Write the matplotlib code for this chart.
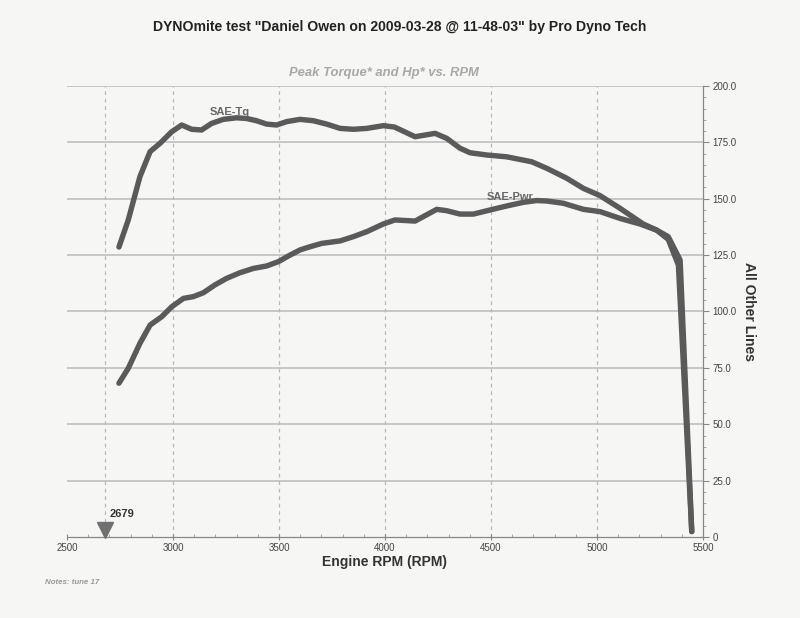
import matplotlib
matplotlib.use("Agg")
import matplotlib.pyplot as plt
from matplotlib.ticker import MultipleLocator

plt.rcParams['font.family'] = ['Liberation Sans', 'DejaVu Sans']

# ---- data ----
tq_rpm = [2745, 2789, 2844, 2892, 2939, 2994, 3041, 3088, 3135, 3182, 3237, 3300,
          3347, 3394, 3442, 3489, 3536, 3599, 3662, 3725, 3788, 3851, 3914, 3992,
          4045, 4142, 4236, 4291, 4354, 4401, 4480, 4574, 4692, 4763, 4857, 4936,
          5014, 5108, 5218, 5281, 5336, 5392, 5447]
tq_val = [128.6, 140.6, 159.8, 170.9, 174.6, 179.7, 182.7, 180.8, 180.5, 183.4, 185.2, 185.9,
          185.6, 184.6, 183.1, 182.7, 184.2, 185.2, 184.6, 183.1, 181.2, 180.8, 181.2, 182.4,
          181.8, 177.5, 179.0, 176.8, 172.4, 170.4, 169.4, 168.6, 166.4, 163.5, 159.1, 154.6,
          151.4, 145.8, 138.8, 136.1, 133.2, 122.8, 2.4]

pwr_rpm = [2745, 2789, 2844, 2892, 2947, 2994, 3049, 3096, 3143, 3198, 3253, 3316,
           3379, 3442, 3497, 3544, 3599, 3646, 3701, 3788, 3851, 3914, 3992, 4047,
           4142, 4244, 4291, 4354, 4417, 4495, 4574, 4652, 4715, 4763, 4841, 4936,
           5014, 5108, 5203, 5281, 5336, 5384, 5447]
pwr_val = [68.2, 74.8, 85.9, 94.0, 97.7, 102.1, 105.8, 106.6, 108.3, 111.8, 114.7, 117.2,
           119.1, 120.2, 122.1, 124.6, 127.3, 128.7, 130.2, 131.3, 133.2, 135.4, 138.8, 140.6,
           140.1, 145.3, 144.7, 143.2, 143.2, 145.0, 146.8, 148.4, 149.2, 149.0, 148.0, 145.3,
           144.3, 141.3, 138.8, 136.1, 132.0, 120.6, 2.4]

x_ticks = [2500, 3000, 3500, 4000, 4500, 5000, 5500]
y_ticks = [0, 25, 50, 75, 100, 125, 150, 175, 200]
y_tick_labels = ["0", "25.0", "50.0", "75.0", "100.0", "125.0", "150.0", "175.0", "200.0"]
marker_rpm = 2679

title = 'DYNOmite test "Daniel Owen on 2009-03-28 @ 11-48-03" by Pro Dyno Tech'
subtitle = "Peak Torque* and Hp* vs. RPM"

# ---- figure ----
bg = "#f6f6f4"
fig = plt.figure(figsize=(8, 6.18), dpi=100, facecolor=bg)
ax = fig.add_axes([67/800, 1-537/618, (703-67)/800, (537-86)/618])
ax.set_facecolor(bg)
ax.set_xlim(2500, 5500)
ax.set_ylim(0, 200)

# grid
for y in y_ticks[1:]:
    ax.axhline(y, color="#c4c4c4", lw=1.3, zorder=1)
for x in [3000, 3500, 4000, 4500, 5000, marker_rpm]:
    ax.axvline(x, color="#b8b8b8", lw=0.9, ls=(0, (3, 3)), zorder=1)

line_col = "#5a5a5a"
ax.plot(tq_rpm, tq_val, color=line_col, lw=3.9, solid_capstyle="round",
        solid_joinstyle="round", zorder=3)
ax.plot(pwr_rpm, pwr_val, color=line_col, lw=3.9, solid_capstyle="round",
        solid_joinstyle="round", zorder=3)

ax.text(3269, 188.5, "SAE-Tq", fontsize=8, fontweight="bold", color="#666666",
        ha="center", va="center")
ax.text(4590, 150.8, "SAE-Pwr", fontsize=8, fontweight="bold", color="#666666",
        ha="center", va="center")

# marker
ax.plot([marker_rpm], [3.3], marker="v", ms=11, color="#707070", clip_on=False, zorder=4)
ax.text(marker_rpm + 20, 8.0, str(marker_rpm), fontsize=8, fontweight="bold",
        color="#333333", ha="left", va="bottom")

# spines
for s in ["left", "top"]:
    ax.spines[s].set_visible(False)
ax.spines["bottom"].set_color("#888888")
ax.spines["right"].set_color("#888888")
ax.spines["bottom"].set_linewidth(0.9)
ax.spines["right"].set_linewidth(0.9)

ax.yaxis.tick_right()
ax.yaxis.set_label_position("right")
ax.set_yticks(y_ticks)
ax.set_yticklabels(y_tick_labels)
ax.yaxis.set_minor_locator(MultipleLocator(5))
ax.set_xticks(x_ticks)
ax.set_xticklabels([str(v) for v in x_ticks])
ax.xaxis.set_minor_locator(MultipleLocator(100))

ax.tick_params(axis="y", which="major", direction="out", length=4, color="#888888",
               labelsize=7, labelcolor="#444444", pad=3)
ax.tick_params(axis="y", which="minor", direction="out", length=2.5, color="#999999")
ax.tick_params(axis="x", which="major", direction="inout", length=5, color="#888888",
               labelsize=7, labelcolor="#444444", pad=2)
ax.tick_params(axis="x", which="minor", direction="in", length=2.5, color="#999999")

ax.set_xlabel("Engine RPM (RPM)", fontsize=10, fontweight="bold", color="#333333",
              labelpad=1)
ax.set_ylabel("All Other Lines", fontsize=10, fontweight="bold", color="#333333",
              rotation=270, labelpad=14)

fig.text(0.5, 1-27/618, title, fontsize=10.1, fontweight="bold", color="#222222",
         ha="center", va="center")
fig.text(384/800, 1-73/618, subtitle, fontsize=9.4, fontweight="bold", style="italic",
         color="#a8a8a8", ha="center", va="center")
fig.text(45/800, 1-582/618, "Notes: tune 17", fontsize=5.7, style="italic",
         fontweight="bold", color="#999999", ha="left", va="center")

fig.savefig("out.png", dpi=100, facecolor=bg)
